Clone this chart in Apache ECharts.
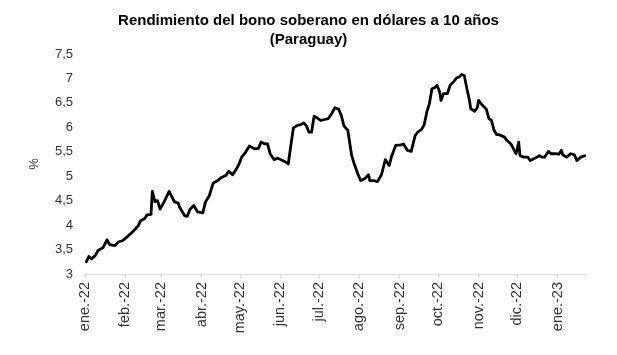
<!DOCTYPE html>
<html>
<head>
<meta charset="utf-8">
<script src="https://cdn.jsdelivr.net/npm/echarts@6/dist/echarts.min.js"></script>
<style>
html,body{margin:0;padding:0;background:#fff;}
#chart{width:617px;height:355px;}
</style>
</head>
<body>
<div id="chart"></div>
<script>
var monthNames = ['ene','feb','mar','abr','may','jun','jul','ago','sep','oct','nov','dic'];
var yTicks = [3, 3.5, 4, 4.5, 5, 5.5, 6, 6.5, 7, 7.5];

var dates = [
'2022-01-02','2022-01-04','2022-01-06','2022-01-09','2022-01-11','2022-01-15','2022-01-18','2022-01-20','2022-01-24','2022-01-27','2022-01-30',
'2022-02-03','2022-02-07','2022-02-11','2022-02-13','2022-02-16','2022-02-18','2022-02-21','2022-02-22','2022-02-24','2022-02-26','2022-02-28',
'2022-03-03','2022-03-07','2022-03-11','2022-03-14','2022-03-15','2022-03-19','2022-03-21','2022-03-23','2022-03-26','2022-03-29',
'2022-04-02','2022-04-04','2022-04-07','2022-04-10','2022-04-13','2022-04-16','2022-04-20','2022-04-22','2022-04-25','2022-04-28','2022-04-30',
'2022-05-02','2022-05-05','2022-05-08','2022-05-12','2022-05-15','2022-05-17','2022-05-20','2022-05-22','2022-05-24','2022-05-27','2022-05-30',
'2022-06-01','2022-06-05','2022-06-07','2022-06-09','2022-06-11','2022-06-14','2022-06-16','2022-06-19','2022-06-21','2022-06-23','2022-06-25','2022-06-27','2022-06-30',
'2022-07-02','2022-07-05','2022-07-08','2022-07-11','2022-07-13','2022-07-16','2022-07-18','2022-07-20','2022-07-23','2022-07-26','2022-07-28','2022-07-31',
'2022-08-02','2022-08-05','2022-08-08','2022-08-09','2022-08-12','2022-08-15','2022-08-18','2022-08-21','2022-08-22','2022-08-24','2022-08-26','2022-08-29',
'2022-09-02','2022-09-04','2022-09-07','2022-09-10','2022-09-13','2022-09-15','2022-09-18','2022-09-20','2022-09-22','2022-09-24','2022-09-26','2022-09-28','2022-09-30',
'2022-10-02','2022-10-03','2022-10-05','2022-10-08','2022-10-10','2022-10-13','2022-10-15','2022-10-17','2022-10-19','2022-10-21','2022-10-23','2022-10-25','2022-10-26','2022-10-29','2022-10-31',
'2022-11-01','2022-11-04','2022-11-07','2022-11-09','2022-11-11','2022-11-13','2022-11-15','2022-11-17','2022-11-21','2022-11-23','2022-11-26','2022-11-28','2022-11-30',
'2022-12-02','2022-12-03','2022-12-06','2022-12-09','2022-12-11','2022-12-14','2022-12-18','2022-12-20','2022-12-22','2022-12-25','2022-12-27','2022-12-30',
'2023-01-02','2023-01-04','2023-01-05','2023-01-08','2023-01-11','2023-01-14','2023-01-16','2023-01-19','2023-01-22'
];
var yields = [
3.25,3.36,3.31,3.38,3.48,3.54,3.70,3.60,3.58,3.66,3.68,
3.77,3.87,3.98,4.09,4.13,4.21,4.22,4.69,4.48,4.50,4.33,
4.47,4.69,4.48,4.45,4.37,4.19,4.18,4.32,4.40,4.27,
4.25,4.47,4.60,4.86,4.90,4.97,5.02,5.10,5.03,5.15,5.25,
5.39,5.49,5.62,5.56,5.57,5.70,5.66,5.66,5.46,5.34,5.37,
5.34,5.29,5.25,5.63,5.99,6.04,6.05,6.09,6.03,5.90,5.90,6.23,6.18,
6.14,6.16,6.18,6.30,6.40,6.37,6.24,6.03,5.94,5.42,5.25,5.03,
4.91,4.95,5.03,4.91,4.91,4.89,5.03,5.34,5.36,5.22,5.42,5.63,
5.64,5.66,5.53,5.51,5.83,5.90,5.96,6.05,6.31,6.48,6.79,6.81,6.86,
6.72,6.55,6.69,6.69,6.86,6.94,7.01,7.03,7.08,7.06,6.79,6.55,6.38,6.33,6.40,
6.55,6.45,6.37,6.18,6.14,5.94,5.85,5.85,5.80,5.73,5.66,5.56,5.46,
5.70,5.42,5.39,5.39,5.32,5.36,5.42,5.39,5.39,5.51,5.46,5.46,
5.45,5.53,5.44,5.39,5.46,5.44,5.32,5.39,5.42
];

var seriesData = dates.map(function (d, i) { return [d, yields[i]]; });
var DAY = 24 * 3600 * 1000;
var FONT = '"Liberation Sans", Arial, sans-serif';

var chart = echarts.init(document.getElementById('chart'), null, {renderer: 'canvas'});
chart.setOption({
  animation: false,
  backgroundColor: '#ffffff',
  title: {
    text: 'Rendimiento del bono soberano en dólares a 10 años\n(Paraguay)',
    left: 'center',
    top: 6,
    textStyle: {fontFamily: FONT, fontSize: 15, fontWeight: 'bold', color: '#000', lineHeight: 19}
  },
  grid: {left: 85, right: 31, top: 54, bottom: 81},
  xAxis: {
    type: 'time',
    min: '2022-01-01',
    max: '2023-01-23',
    minInterval: 28 * DAY,
    maxInterval: 31 * DAY,
    splitNumber: 13,
    axisLine: {lineStyle: {color: '#d9d9d9', width: 1}},
    axisTick: {show: true, length: 5, lineStyle: {color: '#d9d9d9'}},
    splitLine: {show: false},
    axisLabel: {
      rotate: 90,
      fontFamily: FONT,
      fontSize: 14.5,
      color: '#333333',
      margin: 8,
      showMinLabel: true,
      showMaxLabel: false,
      formatter: function (val) {
        var d = new Date(val);
        return monthNames[d.getMonth()] + '.-' + String(d.getFullYear()).slice(2);
      }
    }
  },
  yAxis: {
    type: 'value',
    min: yTicks[0],
    max: yTicks[yTicks.length - 1],
    interval: 0.5,
    name: '%',
    nameLocation: 'middle',
    nameRotate: 90,
    nameGap: 44,
    nameTextStyle: {fontFamily: FONT, fontSize: 13, color: '#333333'},
    axisLine: {show: false},
    axisTick: {show: false},
    splitLine: {show: false},
    axisLabel: {
      fontFamily: FONT,
      fontSize: 13,
      color: '#333333',
      margin: 12,
      formatter: function (v) { return String(v).replace('.', ','); }
    }
  },
  series: [{
    type: 'line',
    data: seriesData,
    showSymbol: false,
    symbol: 'none',
    lineStyle: {color: '#000000', width: 2.8, join: 'round', cap: 'round'}
  }]
});
</script>
</body>
</html>
